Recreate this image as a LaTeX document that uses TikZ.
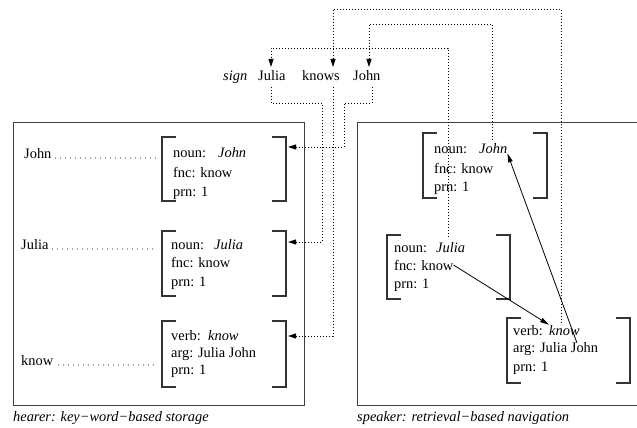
\documentclass[tikz,border=0pt]{standalone}
\usepackage{fontspec}
\setmainfont{Liberation Serif}
\usetikzlibrary{arrows.meta}
% square brackets of a feature structure: left x, right x, top y, bottom y
\newcommand\avmbrk[4]{%
  \draw[brk] (#1+14,#3) -- (#1,#3) -- (#1,#4) -- (#1+14,#4);
  \draw[brk] (#2-14,#3) -- (#2,#3) -- (#2,#4) -- (#2-14,#4);}
\begin{document}
\begin{tikzpicture}[x=1pt,y=-1pt,
  txt/.style={anchor=base west,inner sep=0pt,font=\fontsize{14.4}{17}\selectfont},
  itxt/.style={txt,font=\fontsize{14.4}{17}\selectfont\itshape},
  frame/.style={draw=black!75,line width=1pt},
  brk/.style={draw=black!80,line width=1.1pt},
  leader/.style={line width=1.1pt,line cap=round,dash pattern=on 0pt off 5pt},
  link/.style={line width=0.9pt,dash pattern=on 0.9pt off 2.1pt},
  tip/.style={-{Triangle[length=8pt,width=5pt]}},
  nav/.style={line width=0.8pt,-{Triangle[length=9pt,width=4.5pt]}}]
\useasboundingbox (0,0) rectangle (637,428);

% ---------- the two memories ----------
\draw[frame] (13,122) rectangle (304,405);
\draw[frame] (640,122) -- (357,122) -- (357,405) -- (640,405);
\node[itxt] (capH) at (13,421) {hearer: key\textminus word\textminus based storage};
\node[itxt] (capS) at (357,421) {speaker: retrieval\textminus based navigation};

% ---------- surface signs ----------
\node[itxt] (sign) at (223,81) {sign};
\node[txt] (sJulia) at (258,81) {Julia};
\node[txt] (sKnows) at (302,81) {knows};
\node[txt] (sJohn) at (353,81) {John};

% ---------- hearer: word-form keys and proplets ----------
\node[txt] (kJohn) at (24,158) {John};
\node[txt] (kJulia) at (21,249) {Julia};
\node[txt] (kKnow) at (21,365) {know};

\avmbrk{162}{286}{137}{201}
\node[txt] (hJohnN) at (173,157) {noun:};
\node[itxt] (hJohnW) at (218,157) {John};
\node[txt] (hJohnF) at (173,177) {fnc: know};
\node[txt] (hJohnP) at (173,196) {prn: 1};

\avmbrk{162}{286}{231}{296}
\node[txt] (hJuliaN) at (171,249) {noun:};
\node[itxt] (hJuliaW) at (214,249) {Julia};
\node[txt] (hJuliaF) at (171,267) {fnc: know};
\node[txt] (hJuliaP) at (171,286) {prn: 1};

\avmbrk{162}{286}{321}{387}
\node[txt] (hKnowN) at (171,340) {verb:};
\node[itxt] (hKnowW) at (208,340) {know};
\node[txt] (hKnowA) at (171,357) {arg: Julia John};
\node[txt] (hKnowP) at (171,374) {prn: 1};

\coordinate (hJohnIn) at (288,147);
\coordinate (hJuliaIn) at (288,242);
\coordinate (hKnowIn) at (288,336);

% leaders from keys to proplets
\draw[leader] ([xshift=4pt]kJohn.base east) -- (157,158);
\draw[leader] ([xshift=4pt]kJulia.base east) -- (157,249);
\draw[leader] ([xshift=5pt]kKnow.base east) -- (154,365);

% ---------- speaker: proplets ----------
\avmbrk{423}{547}{133}{198}
\node[txt] (rJohnN) at (434,153) {noun:};
\node[itxt] (rJohnW) at (479,153) {John};
\node[txt] (rJohnF) at (434,173) {fnc: know};
\node[txt] (rJohnP) at (434,191) {prn: 1};

\avmbrk{387}{510}{235}{299}
\node[txt] (rJuliaN) at (394,252) {noun:};
\node[itxt] (rJuliaW) at (436,252) {Julia};
\node[txt] (rJuliaF) at (394,270) {fnc: know};
\node[txt] (rJuliaP) at (394,288) {prn: 1};

\avmbrk{507}{630}{318}{383}
\node[txt] (rKnowN) at (513,335) {verb:};
\node[itxt] (rKnowW) at (549,335) {know};
\node[txt] (rKnowA) at (513,352) {arg: Julia John};
\node[txt] (rKnowP) at (513,371) {prn: 1};

\coordinate (rJuliaOut) at (448,237);
\coordinate (rKnowOut) at (561,323);
\coordinate (rJohnOut) at (492,140);
\coordinate (rArgJohn) at (577,343);

% navigation along the proplets
\draw[nav] (rJuliaF.east) -- (rKnowW.north west);
\draw[nav] (rArgJohn) -- (rJohnW.south east);

% ---------- speaker output to the sign ----------
\coordinate (sJuliaIn) at (271,67);
\coordinate (sKnowsIn) at (333,67);
\coordinate (sJohnIn) at (369,67);
\draw[link,tip] (rJuliaOut) |- (271,48) -- (sJuliaIn);
\draw[link,tip] (rKnowOut) |- (333,9) -- (sKnowsIn);
\draw[link,tip] (rJohnOut) |- (369,24) -- (sJohnIn);

% ---------- sign input to the hearer ----------
\draw[link,tip] (271,87) |- (322,103) |- (hJuliaIn);
\draw[link,tip] (333,87) |- (hKnowIn);
\draw[link,tip] (372,87) |- (344,103) |- (hJohnIn);
\end{tikzpicture}
\end{document}
